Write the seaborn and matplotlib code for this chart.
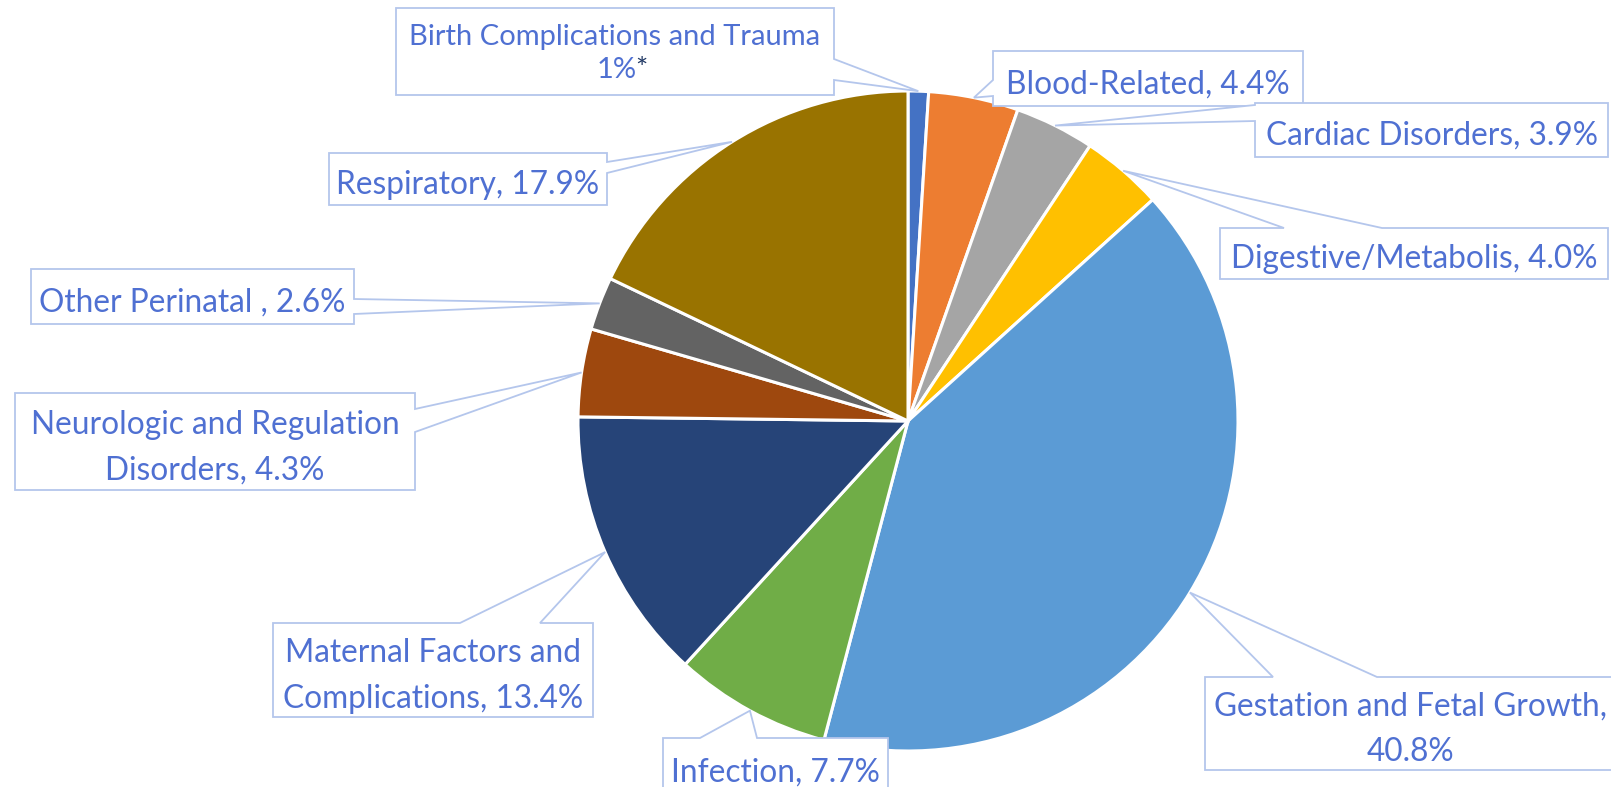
import matplotlib
matplotlib.use("Agg")
import matplotlib.pyplot as plt
from matplotlib.patches import Polygon
import numpy as np
import seaborn as sns

# data
categories = ["Birth Complications and Trauma", "Blood-Related", "Cardiac Disorders",
              "Digestive/Metabolis", "Gestation and Fetal Growth", "Infection",
              "Maternal Factors and Complications", "Neurologic and Regulation Disorders",
              "Other Perinatal ", "Respiratory"]
shares = [1.0, 4.4, 3.9, 4.0, 40.8, 7.7, 13.4, 4.3, 2.6, 17.9]
label_texts = ["Birth Complications and Trauma",
               "Blood-Related, 4.4%",
               "Cardiac Disorders, 3.9%",
               "Digestive/Metabolis, 4.0%",
               "Gestation and Fetal Growth,\n40.8%",
               "Infection, 7.7%",
               "Maternal Factors and\nComplications, 13.4%",
               "Neurologic and Regulation\nDisorders, 4.3%",
               "Other Perinatal , 2.6%",
               "Respiratory, 17.9%"]
birth_value_text = "1%"
footnote_mark = "*"
colors = ["#4472C4", "#ED7D31", "#A5A5A5", "#FFC000", "#5B9BD5", "#70AD47",
          "#264478", "#9E480E", "#636363", "#997300"]

# callout layout in pixels (x0, y0, x1, y1), pointer side, pointer base (a, b)
boxes = [
    ((396, 8, 834, 95), "right", (59, 80)),
    ((993, 51, 1303, 106), "left", (80, 96)),
    ((1255, 103, 1608, 157), "left", (105, 121)),
    ((1220, 228, 1608, 279), "top", (1284, 1382)),
    ((1205, 677, 1616, 770), "top", (1273, 1377)),
    ((663, 738, 888, 800), "top", (700, 757)),
    ((273, 623, 593, 717), "top", (460, 540)),
    ((15, 393, 415, 490), "right", (409, 432)),
    ((31, 269, 354, 324), "right", (299, 314)),
    ((329, 153, 607, 205), "right", (162, 173)),
]

W, H = 1611, 787
CX, CY, R = 908, 421, 330
TEXT_COLOR = "#4F70D2"
EDGE_COLOR = "#B4C6EC"

sns.set_theme(style="white")
plt.rcParams['font.family'] = ['Lato', 'DejaVu Sans']

fig = plt.figure(figsize=(W / 100, H / 100), dpi=100)
ax = fig.add_axes([0, 0, 1, 1])

pal = sns.color_palette(colors)
wedges, _ = ax.pie(shares, colors=pal, startangle=90, counterclock=False,
                   center=(CX, H - CY), radius=R,
                   wedgeprops=dict(edgecolor="white", linewidth=2.2))
ax.set_xlim(0, W)
ax.set_ylim(0, H)
ax.set_aspect("equal")
ax.axis("off")


def to_data(pts):
    return [(x, H - y) for x, y in pts]


for i, (w, (box, side, base)) in enumerate(zip(wedges, boxes)):
    mid = np.deg2rad((w.theta1 + w.theta2) / 2)
    tx = CX + R * np.cos(mid)
    ty = CY - R * np.sin(mid)
    x0, y0, x1, y1 = box
    a, b = base
    if side == "right":
        pts = [(x0, y0), (x1, y0), (x1, a), (tx, ty), (x1, b), (x1, y1), (x0, y1)]
    elif side == "left":
        pts = [(x0, y0), (x1, y0), (x1, y1), (x0, y1), (x0, b), (tx, ty), (x0, a)]
    else:
        pts = [(x0, y0), (a, y0), (tx, ty), (b, y0), (x1, y0), (x1, y1), (x0, y1)]
    ax.add_patch(Polygon(to_data(pts), closed=True, facecolor="white",
                         edgecolor=EDGE_COLOR, linewidth=1.3, zorder=3))

    if i == 0:
        # first label: two lines, with a dark footnote mark
        ax.text((x0 + x1) / 2, H - 37, label_texts[i], ha="center", va="center",
                fontsize=21, color=TEXT_COLOR, zorder=4)
        ax.text(637, H - 70, birth_value_text, ha="right", va="center",
                fontsize=21, color=TEXT_COLOR, zorder=4)
        ax.text(635, H - 70, footnote_mark, ha="left", va="center",
                fontsize=21, color="#203864", zorder=4)
        continue
    ty_text = (y0 + y1) / 2 + 6 if i != 5 else 773
    ax.text((x0 + x1) / 2, H - ty_text, label_texts[i], ha="center", va="center",
            fontsize=22.8, color=TEXT_COLOR, linespacing=1.65, zorder=4)

fig.savefig("out.png", dpi=100)
